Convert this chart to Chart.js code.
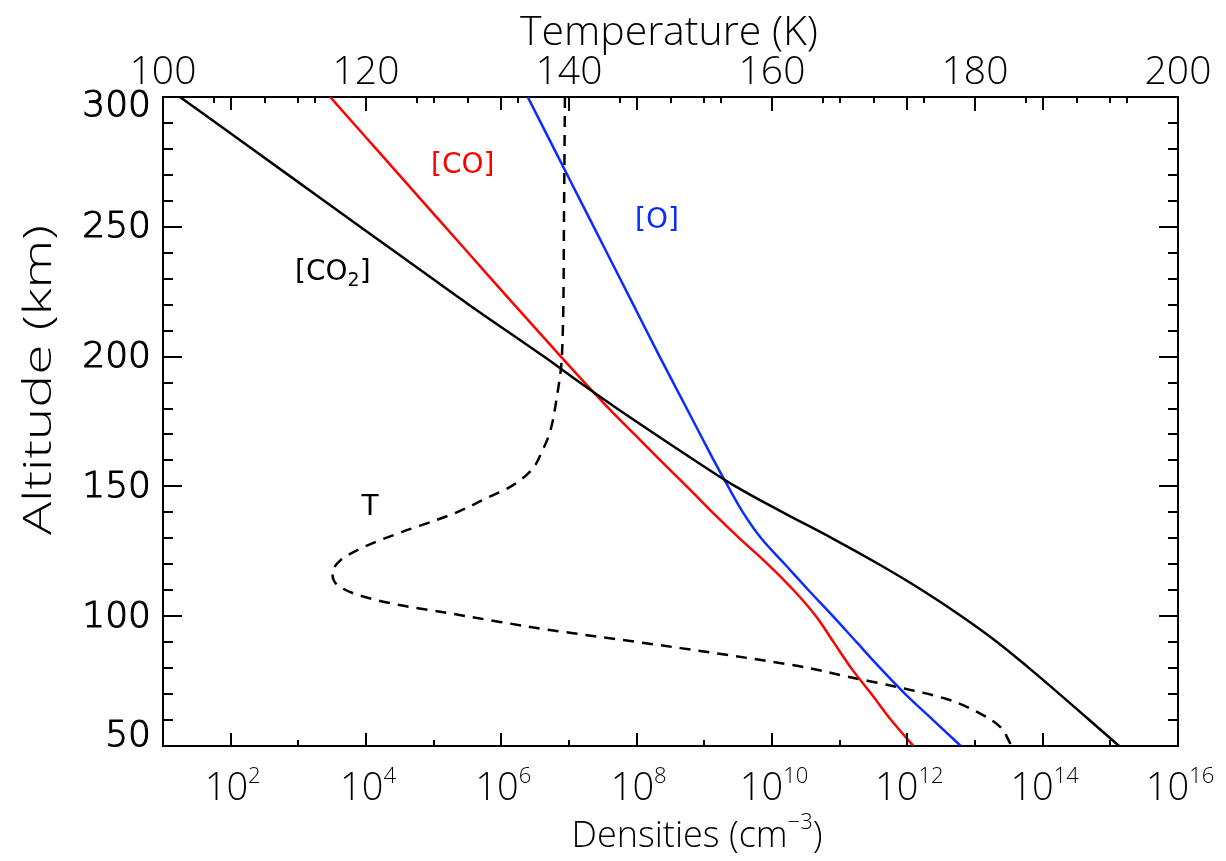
<!DOCTYPE html>
<html>
<head>
<meta charset="utf-8">
<script src="https://cdn.jsdelivr.net/npm/chart.js@4.4.1/dist/chart.umd.min.js"></script>
<style>
  html, body { margin: 0; padding: 0; background: #fff; }
  #wrap { width: 1226px; height: 861px; }
</style>
</head>
<body>
<div id="wrap"><canvas id="profile" width="1226" height="861"></canvas></div>
<script>
// altitude grid (km) shared by the three density profiles
const altitudes = [300, 280, 260, 240, 220, 200, 190, 180, 170, 160, 150, 140, 130, 120, 110, 100, 90, 80, 70, 60, 50];
// log10 of number density (cm^-3)
const co2Exp = [1.25, 2.32, 3.38, 4.45, 5.52, 6.63, 7.16, 7.71, 8.28, 8.86, 9.46, 10.16, 10.89, 11.58, 12.22, 12.80, 13.33, 13.80, 14.25, 14.69, 15.13];
const coExp  = [3.47, 4.15, 4.83, 5.51, 6.19, 6.88, 7.23, 7.59, 7.97, 8.35, 8.74, 9.12, 9.52, 9.94, 10.32, 10.65, 10.91, 11.17, 11.47, 11.76, 12.09];
const oExp   = [6.39, 6.78, 7.17, 7.56, 7.95, 8.34, 8.54, 8.74, 8.94, 9.14, 9.35, 9.57, 9.84, 10.19, 10.54, 10.90, 11.25, 11.60, 11.97, 12.38, 12.79];

// temperature profile (top axis)
const tempAlt = [300, 250, 200, 184.4, 170.6, 164, 156.3, 149.8, 145.9, 140.1, 137, 132.4, 126.3, 121.6, 116.6, 112, 108.2, 104.3, 101.2, 97.8, 94.7, 92.8, 87.7, 83.9, 80.8, 76.6, 72.7, 68.1, 62.3, 57.3, 51.5, 50];
const tempK   = [139.6, 139.5, 139.3, 138.8, 138.1, 137.4, 136.3, 134.2, 132.1, 129.0, 126.9, 123.5, 119.6, 117.5, 116.7, 117.2, 119.2, 123.3, 128.1, 133.2, 138.1, 141.6, 151.0, 157.6, 162.6, 167.6, 172.4, 177.2, 180.6, 182.5, 183.4, 183.6];

// axis ticks
const altTicks = [50, 100, 150, 200, 250, 300];
const densityTickExp = [2, 4, 6, 8, 10, 12, 14, 16];
const tempTicks = [100, 120, 140, 160, 180, 200];

// curve labels, placed in data coordinates (density exponent, altitude)
// each part is [text, font size, baseline shift]
const curveLabels = [
  { parts: [['[CO]', 28, 0]], color: '#ff0000', exp: 5.43, alt: 274.6 },
  { parts: [['[O]', 28, 0]], color: '#0a2cff', exp: 8.30, alt: 253.4 },
  { parts: [['[CO', 28, 0], ['2', 19, 6], [']', 28, 0]], color: '#000000', exp: 3.51, alt: 233.4 },
  { parts: [['T', 28, 0]], color: '#000000', exp: 4.06, alt: 142.8 }
];

const AXIS_FONT = '300 {px}px "Open Sans", "Liberation Sans", sans-serif';
const ALT_FONT = '200 {px}px "DejaVu Sans", sans-serif';
const CURVE_FONT = '{px}px "DejaVu Sans", sans-serif';

function fontOf(tpl, px) {
  return tpl.replace('{px}', px);
}

// draw a run of text pieces [text, size, dy] centred on x
function drawRich(ctx, x, y, parts, tpl, color) {
  let total = 0;
  const widths = parts.map(p => {
    ctx.font = fontOf(tpl, p[1]);
    const w = ctx.measureText(p[0]).width;
    total += w;
    return w;
  });
  let cx = x - total / 2;
  ctx.fillStyle = color;
  ctx.textAlign = 'left';
  ctx.textBaseline = 'alphabetic';
  parts.forEach((p, i) => {
    ctx.font = fontOf(tpl, p[1]);
    ctx.fillText(p[0], cx, y + p[2]);
    cx += widths[i];
  });
}

const frameAndText = {
  id: 'frameAndText',
  afterDatasetsDraw(chart) {
    const ctx = chart.ctx;
    const { left, right, top, bottom } = chart.chartArea;
    const xs = chart.scales.x, xt = chart.scales.x2, ys = chart.scales.y;
    ctx.save();
    ctx.strokeStyle = '#000';
    ctx.lineWidth = 2;
    ctx.beginPath();
    // altitude ticks on both sides, pointing inward
    for (let a = 60; a < 300; a += 10) {
      const py = Math.round(ys.getPixelForValue(a));
      const len = a % 50 === 0 ? 19 : 10;
      ctx.moveTo(left, py); ctx.lineTo(left + len, py);
      ctx.moveTo(right, py); ctx.lineTo(right - len, py);
    }
    // density decades on bottom and top
    for (let e = 2; e <= 15; e++) {
      const px = Math.round(xs.getPixelForValue(Math.pow(10, e)));
      const len = e % 2 === 0 ? 13 : 6;
      ctx.moveTo(px, bottom); ctx.lineTo(px, bottom - len);
      ctx.moveTo(px, top); ctx.lineTo(px, top + len);
    }
    // temperature ticks on top
    for (let t = 105; t < 200; t += 5) {
      const px = Math.round(xt.getPixelForValue(t));
      const len = t % 20 === 0 ? 14 : 6;
      ctx.moveTo(px, top); ctx.lineTo(px, top + len);
    }
    ctx.stroke();

    // altitude labels, the end ones kept inside the axis span
    ctx.font = fontOf(ALT_FONT, 36);
    ctx.fillStyle = '#000';
    ctx.lineWidth = 1.1;
    ctx.textAlign = 'right';
    ctx.textBaseline = 'middle';
    altTicks.forEach(a => {
      const py = Math.min(Math.max(ys.getPixelForValue(a), top + 9), bottom - 10);
      ctx.fillText(String(a), left - 12, py + 1);
      ctx.strokeText(String(a), left - 12, py + 1);
    });

    // top axis
    tempTicks.forEach(t => {
      drawRich(ctx, xt.getPixelForValue(t), 84, [[String(t), 39, 0]], AXIS_FONT, '#000');
    });
    drawRich(ctx, 669, 45, [['Temperature (K)', 41, 0]], AXIS_FONT, '#000');

    // bottom axis
    densityTickExp.forEach(e => {
      drawRich(ctx, xs.getPixelForValue(Math.pow(10, e)) + 2, 800, [['10', 38, 0], [String(e), 22, -17]], AXIS_FONT, '#000');
    });
    drawRich(ctx, 697, 847, [['Densities (cm', 36, 0], ['\u22123', 22, -18], [')', 36, 0]], AXIS_FONT, '#000');

    // left axis title, rotated and drawn long like the rest of the lettering
    ctx.save();
    ctx.translate(51, 380);
    ctx.rotate(-Math.PI / 2);
    ctx.scale(1.45, 1);
    ctx.font = fontOf(AXIS_FONT, 38);
    ctx.textAlign = 'center';
    ctx.textBaseline = 'alphabetic';
    ctx.fillStyle = '#000';
    ctx.fillText('Altitude (km)', 0, 0);
    ctx.restore();

    // curve labels
    curveLabels.forEach(l => {
      const px = xs.getPixelForValue(Math.pow(10, l.exp));
      const py = ys.getPixelForValue(l.alt) + 10;
      drawRich(ctx, px, py, l.parts, CURVE_FONT, l.color);
    });
    ctx.restore();
  }
};

const lineStyle = { pointRadius: 0, borderWidth: 2.5, cubicInterpolationMode: 'monotone', fill: false, yAxisID: 'y' };

new Chart(document.getElementById('profile'), {
  type: 'line',
  data: {
    datasets: [
      Object.assign({ label: 'CO2', data: altitudes.map((a, i) => ({ x: Math.pow(10, co2Exp[i]), y: a })), borderColor: '#000000', xAxisID: 'x' }, lineStyle),
      Object.assign({ label: 'CO', data: altitudes.map((a, i) => ({ x: Math.pow(10, coExp[i]), y: a })), borderColor: '#ff0000', xAxisID: 'x' }, lineStyle),
      Object.assign({ label: 'O', data: altitudes.map((a, i) => ({ x: Math.pow(10, oExp[i]), y: a })), borderColor: '#0a2cff', xAxisID: 'x' }, lineStyle),
      Object.assign({
        label: 'T',
        data: tempAlt.map((a, i) => ({ x: tempK[i], y: a })),
        borderColor: '#000000',
        borderDash: [11, 8],
        xAxisID: 'x2'
      }, lineStyle)
    ]
  },
  options: {
    indexAxis: 'y',
    responsive: false,
    animation: false,
    devicePixelRatio: 1,
    layout: { padding: 0 },
    plugins: { legend: { display: false }, tooltip: { enabled: false } },
    scales: {
      x: {
        type: 'logarithmic', position: 'bottom', min: 10, max: 1e16,
        ticks: { display: false }, grid: { display: false },
        border: { display: true, color: '#000', width: 2 },
        afterFit: s => { s.height = 115; }
      },
      x2: {
        type: 'linear', position: 'top', min: 100, max: 200,
        ticks: { display: false }, grid: { display: false },
        border: { display: true, color: '#000', width: 2 },
        afterFit: s => { s.height = 97; }
      },
      y: {
        type: 'linear', position: 'left', min: 50, max: 300,
        ticks: { display: false }, grid: { display: false },
        border: { display: true, color: '#000', width: 2 },
        afterFit: s => { s.width = 163; }
      },
      y2: {
        type: 'linear', position: 'right', min: 50, max: 300,
        ticks: { display: false }, grid: { display: false },
        border: { display: true, color: '#000', width: 2 },
        afterFit: s => { s.width = 48; }
      }
    }
  },
  plugins: [frameAndText]
});
</script>
</body>
</html>
